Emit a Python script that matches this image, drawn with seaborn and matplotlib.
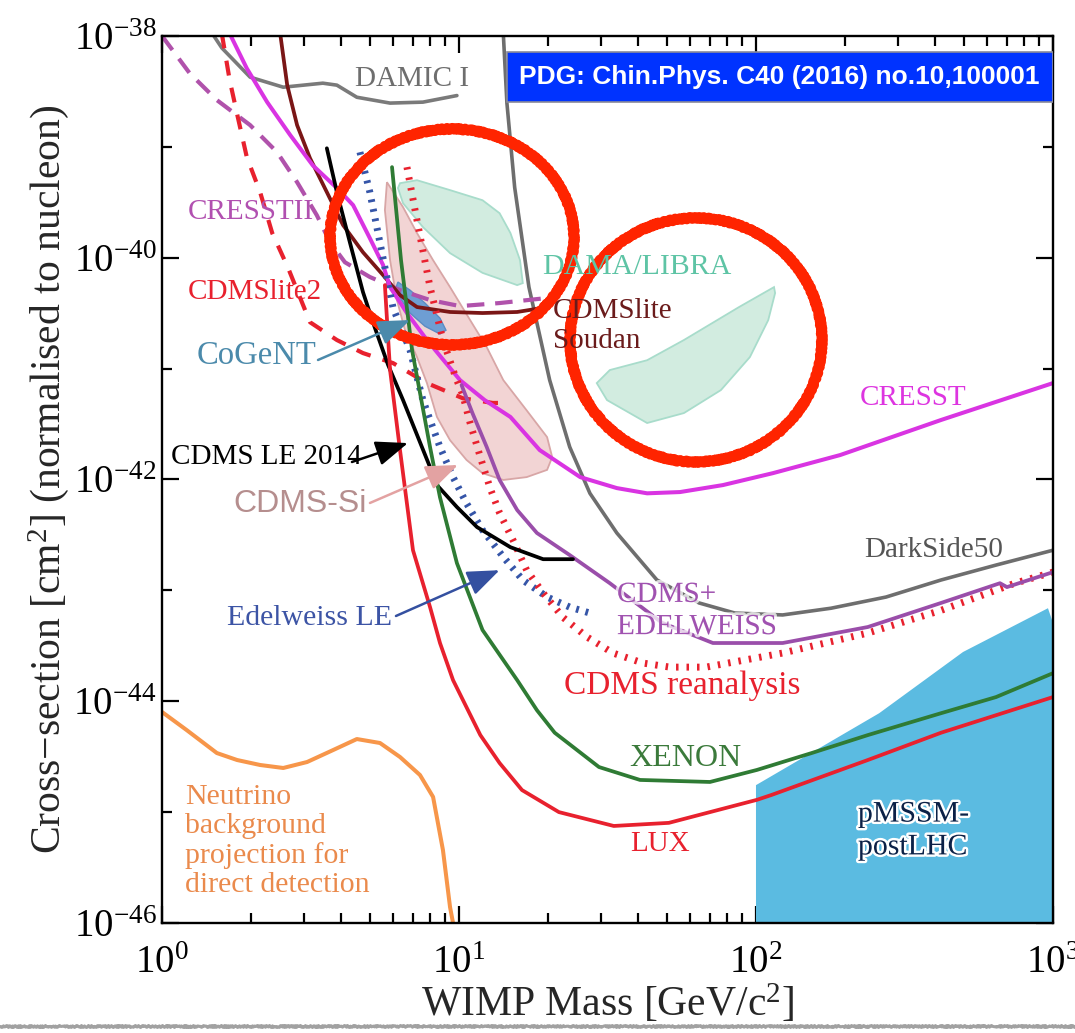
import numpy as np
import pandas as pd
import matplotlib
matplotlib.use("Agg")
import matplotlib.pyplot as plt
import matplotlib.patheffects as pe
from matplotlib.lines import Line2D
from matplotlib.patches import Ellipse, Rectangle
from matplotlib.ticker import FixedLocator, LogLocator, NullFormatter, LogFormatterSciNotation
import seaborn as sns

# ---------------------------------------------------------------------------
# Spin-independent WIMP-nucleon limits: mass [GeV/c^2], cross-section [cm^2]
# ---------------------------------------------------------------------------
damic_mass = [1.46, 1.59, 1.98, 2.56, 3.48, 3.88, 4.53, 5.86, 7.56, 9.84]
damic_xsec = [1.1e-38, 7.8e-39, 4.25e-39, 3.45e-39, 3.75e-39, 3.6e-39, 2.8e-39, 2.48e-39, 2.53e-39, 2.9e-39]

darkside_mass = [14.1, 14.5, 15.4, 17.2, 20.2, 23.6, 27.6, 34.0, 46.4, 64.3, 84.9, 123, 179, 274, 420, 643, 1000]
darkside_xsec = [1.05e-38, 2.48e-39, 4.3e-40, 5.43e-41, 7.87e-42, 1.96e-42, 7.5e-43, 3.29e-43, 1.24e-43,
                 7.7e-44, 6.24e-44, 6.0e-44, 6.9e-44, 8.7e-44, 1.24e-43, 1.69e-43, 2.3e-43]

cresst2_mass = [1.0, 1.24, 1.53, 1.98, 2.44, 2.85, 3.32, 3.68, 4.13, 5.01, 6.33, 7.99, 10.08, 13.7, 19.8]
cresst2_xsec = [1.0e-38, 4.6e-39, 2.64e-39, 1.57e-39, 8.95e-40, 4.8e-40, 2.42e-40, 1.38e-40, 9.1e-41,
                6.7e-41, 5.1e-41, 4.15e-41, 3.66e-41, 3.9e-41, 4.33e-41]

cresst_mass = [1.69, 1.93, 2.26, 2.70, 3.22, 3.88, 4.40, 5.01, 5.55, 5.86, 6.68, 7.80, 10.08, 12.2, 14.9,
               18.7, 25.6, 34.0, 43.0, 55.5, 77.4, 114, 192, 420, 1000]
cresst_xsec = [1.05e-38, 5.1e-39, 2.53e-39, 1.28e-39, 6.8e-40, 4.25e-40, 2.98e-40, 1.50e-40, 8.6e-41, 5.43e-41,
               3.17e-41, 1.81e-41, 7.87e-42, 5.2e-42, 3.66e-42, 1.84e-42, 1.05e-42, 8.36e-43, 7.5e-43, 7.7e-43,
               8.9e-43, 1.14e-42, 1.66e-42, 3.44e-42, 7.4e-42]

soudan_mass = [2.50, 2.64, 2.85, 3.15, 3.59, 4.07, 4.75, 5.55, 6.33, 7.22, 9.33, 12.0, 15.7, 19.9]
soudan_xsec = [1.05e-38, 3.6e-39, 1.57e-39, 7.9e-40, 3.9e-40, 1.97e-40, 1.12e-40, 6.97e-41, 4.6e-41, 3.59e-41,
               3.24e-41, 3.17e-41, 3.24e-41, 3.59e-41]

cdmslite2_mass = [1.59, 1.69, 1.80, 1.93, 2.14, 2.35, 2.66, 3.15, 3.88, 4.75, 6.00, 7.80, 10.3, 13.0, 14.9]
cdmslite2_xsec = [1.05e-38, 3.99e-39, 1.85e-39, 8.07e-40, 3.9e-40, 1.67e-40, 8.05e-41, 2.62e-41, 1.81e-41,
                  1.38e-41, 1.12e-41, 7.4e-42, 5.4e-42, 4.9e-42, 4.9e-42]

cdmsle_mass = [3.59, 3.88, 4.29, 4.75, 5.13, 5.77, 6.48, 7.99, 8.43, 9.84, 11.5, 14.9, 19.2, 24.2]
cdmsle_xsec = [9.7e-40, 3.9e-40, 1.38e-40, 4.9e-41, 2.62e-41, 1.08e-41, 5.2e-42, 1.29e-42, 8.9e-43, 5.64e-43,
               3.72e-43, 2.45e-43, 1.91e-43, 1.91e-43]

cdms_edw_mass = [10.2, 11.1, 12.4, 13.7, 15.7, 18.3, 23.6, 32.2, 48.3, 71.6, 123, 238, 420, 663, 700, 1000]
cdms_edw_xsec = [7.1e-42, 3.97e-42, 1.96e-42, 9.9e-43, 5.3e-43, 3.29e-43, 2.08e-43, 1.16e-43, 5.1e-44,
                 3.35e-44, 3.35e-44, 4.67e-44, 7.7e-44, 1.16e-43, 1.07e-43, 1.46e-43]

cdms_re_mass = [6.68, 7.22, 7.99, 8.83, 9.69, 10.3, 10.9, 11.8, 12.7, 13.7, 15.2, 16.9, 19.2, 22.4, 27.0,
                33.0, 41.6, 51.3, 67.9, 123, 238, 420, 745, 1000]
cdms_re_xsec = [6.56e-40, 2.18e-40, 5.43e-41, 1.81e-41, 8.7e-42, 5.77e-42, 3.23e-42, 1.59e-42, 8.5e-43,
                4.98e-43, 2.84e-43, 1.52e-43, 9.46e-44, 5.7e-44, 3.79e-44, 2.72e-44, 2.21e-44, 2.03e-44,
                2.03e-44, 2.72e-44, 4.12e-44, 6.6e-44, 1.16e-43, 1.46e-43]

edelweiss_mass = [4.64, 5.01, 5.55, 6.00, 6.84, 7.56, 7.99, 8.63, 9.55, 10.6, 12.0, 14.1, 16.4, 19.8, 23.6, 27.6]
edelweiss_xsec = [8.95e-40, 3.9e-40, 9.9e-41, 3.52e-41, 1.47e-41, 5.2e-42, 3.44e-42, 1.96e-42, 1.05e-42,
                  6.1e-43, 3.5e-43, 2.0e-43, 1.24e-43, 8.7e-44, 7.06e-44, 6.24e-44]

xenon_mass = [5.95, 6.38, 6.95, 7.99, 8.63, 9.84, 12.0, 15.7, 18.3, 21.0, 29.6, 40.7, 70.0, 100.7, 154,
              238, 420, 643, 1000]
xenon_xsec = [6.56e-40, 9.5e-41, 1.47e-41, 1.96e-42, 6.9e-43, 1.76e-43, 4.39e-44, 1.55e-44, 8.3e-45, 5.2e-45,
              2.55e-45, 1.95e-45, 1.87e-45, 2.4e-45, 3.41e-45, 4.95e-45, 7.8e-45, 1.09e-44, 1.79e-44]

lux_mass = [5.63, 5.86, 6.33, 7.00, 7.99, 8.63, 9.55, 11.8, 13.7, 16.3, 21.7, 33.2, 50.9, 100.7, 113,
            238, 420, 1000]
lux_xsec = [5.66e-41, 9.7e-42, 1.84e-42, 2.3e-43, 7.06e-44, 3.35e-44, 1.55e-44, 4.95e-45, 2.77e-45, 1.58e-45,
            1.0e-45, 7.5e-46, 8.0e-46, 1.29e-45, 1.43e-45, 2.95e-45, 5.2e-45, 1.09e-44]

neutrino_mass = [1.0, 1.21, 1.53, 1.79, 2.14, 2.56, 3.08, 3.77, 4.53, 5.42, 6.33, 7.39, 8.18, 8.83, 9.33, 9.55, 9.62]
neutrino_xsec = [8.0e-45, 5.5e-45, 3.41e-45, 2.95e-45, 2.66e-45, 2.5e-45, 2.83e-45, 3.63e-45, 4.56e-45,
                 4.2e-45, 3.14e-45, 2.16e-45, 1.37e-45, 4.55e-46, 1.39e-46, 1.0e-46, 8.0e-47]

# ---- preferred (signal) regions, closed contours ----
cogent_mass = [6.23, 6.84, 7.68, 8.63, 9.04, 8.63, 7.68, 6.84, 6.33, 6.14]
cogent_xsec = [6.03e-41, 5.1e-41, 3.9e-41, 2.85e-41, 2.22e-41, 2.05e-41, 2.41e-41, 3.17e-41, 4.33e-41, 5.43e-41]

cdmssi_mass = [5.72, 6.48, 7.22, 8.18, 9.33, 10.9, 12.4, 14.1, 16.9, 19.8, 20.6, 19.8, 16.9, 14.1, 12.0,
               10.6, 9.33, 8.43, 7.80, 7.22, 6.58, 6.18, 5.86, 5.63]
cdmssi_xsec = [4.8e-40, 2.86e-40, 1.67e-40, 9.5e-41, 5.43e-41, 2.74e-41, 1.56e-41, 7.87e-42, 4.2e-42,
               2.41e-42, 1.59e-42, 1.22e-42, 1.05e-42, 9.9e-43, 1.14e-42, 1.50e-42, 2.26e-42, 3.66e-42,
               7.4e-42, 1.27e-41, 2.22e-41, 4.15e-41, 9.5e-41, 2.69e-40]

dama_low_mass = [6.33, 7.22, 9.33, 12.0, 13.7, 14.9, 16.05, 16.4, 15.7, 12.0, 9.33, 7.56, 6.48, 6.23]
dama_low_xsec = [4.7e-40, 5.0e-40, 4.07e-40, 3.3e-40, 2.52e-40, 1.67e-40, 9.5e-41, 5.9e-41, 5.66e-41,
                 7.3e-41, 1.10e-40, 1.89e-40, 3.1e-40, 4.25e-40]

dama_high_mass = [115, 87.7, 57.2, 43.0, 32.2, 29.1, 31.5, 43.0, 57.2, 76.2, 95.4, 110, 116]
dama_high_xsec = [5.43e-41, 3.59e-41, 1.81e-41, 1.19e-41, 9.7e-42, 7.4e-42, 5.2e-42, 3.23e-42, 3.97e-42,
                  6.4e-42, 1.27e-41, 2.74e-41, 4.8e-41]

pmssm_mass = [100, 100, 260, 498, 962, 1000, 1000]
pmssm_xsec = [1.0e-46, 1.75e-45, 7.8e-45, 2.78e-44, 6.9e-44, 5.1e-44, 1.0e-46]

# ---- styling ----
sns.set_style("ticks")
plt.rcParams.update({
    "font.family": ["Liberation Serif", "DejaVu Serif"],
    "mathtext.fontset": "custom",
    "mathtext.rm": "Liberation Serif",
    "mathtext.it": "Liberation Serif:italic",
    "mathtext.bf": "Liberation Serif:bold",
    "axes.linewidth": 1.7,
    "axes.edgecolor": "black",
    "xtick.direction": "in",
    "ytick.direction": "in",
    "xtick.top": True,
    "ytick.right": True,
    "xtick.color": "black",
    "ytick.color": "black",
})

RED = "#E8212E"

fig = plt.figure(figsize=(10.75, 10.33), dpi=100)
ax = fig.add_axes([0.1507, 0.1065, 0.8288, 0.8587])
ax.set_xscale("log")
ax.set_yscale("log")

# filled regions
ax.fill(pmssm_mass, pmssm_xsec, color="#5BBBE1", lw=0, zorder=1)
ax.fill(dama_low_mass, dama_low_xsec, facecolor="#D2ECE0", edgecolor="#A8DCCB", lw=1.3, zorder=1)
ax.fill(dama_high_mass, dama_high_xsec, facecolor="#D2ECE0", edgecolor="#A8DCCB", lw=1.3, zorder=1)
ax.fill(cdmssi_mass, cdmssi_xsec, facecolor="#F2D4D4", edgecolor="#D8A6A6", lw=1.3, zorder=1.2)
ax.fill(cogent_mass, cogent_xsec, facecolor="#6E9ED3", edgecolor="#5B8CC4", lw=1.0, zorder=1.3)

dotted_red = (0, (0.36, 1.15))
dotted_blue = (0, (0.4, 1.0))

curves = [
    (damic_mass, damic_xsec, dict(color="#7A7A7A", lw=2.6)),
    (darkside_mass, darkside_xsec, dict(color="#6E6E6E", lw=2.6)),
    (cresst2_mass, cresst2_xsec, dict(color="#B052AB", lw=3.0, linestyle=(0, (4.2, 2.6)))),
    (cdmslite2_mass, cdmslite2_xsec, dict(color=RED, lw=3.0, linestyle=(0, (3.6, 3.0)))),
    (soudan_mass, soudan_xsec, dict(color="#7A1616", lw=2.7)),
    (cresst_mass, cresst_xsec, dict(color="#D934E2", lw=2.9)),
    (edelweiss_mass, edelweiss_xsec, dict(color="#3555A8", lw=5.0, linestyle=dotted_blue)),
    (cdms_re_mass, cdms_re_xsec, dict(color=RED, lw=5.0, linestyle=dotted_red)),
    (cdms_edw_mass, cdms_edw_xsec, dict(color="#9A4EAA", lw=2.7)),
    (cdmsle_mass, cdmsle_xsec, dict(color="black", lw=2.7)),
    (xenon_mass, xenon_xsec, dict(color="#2F7B34", lw=2.7)),
    (lux_mass, lux_xsec, dict(color=RED, lw=2.7)),
    (neutrino_mass, neutrino_xsec, dict(color="#F7964A", lw=2.9)),
]
for mass, xsec, style in curves:
    sns.lineplot(x=mass, y=xsec, sort=False, estimator=None, ax=ax, zorder=2, **style)

ax.set_xlim(1, 1000)
ax.set_ylim(1e-46, 1e-38)

# axes, ticks
ax.xaxis.set_major_locator(LogLocator(base=10))
ax.xaxis.set_minor_locator(LogLocator(base=10, subs=np.arange(2, 10)))
ax.xaxis.set_minor_formatter(NullFormatter())
ax.yaxis.set_major_locator(FixedLocator([1e-46, 1e-44, 1e-42, 1e-40, 1e-38]))
ax.yaxis.set_major_formatter(LogFormatterSciNotation(base=10))
ax.yaxis.set_minor_locator(FixedLocator([1e-45, 1e-43, 1e-41, 1e-39]))
ax.yaxis.set_minor_formatter(NullFormatter())
ax.tick_params(which="major", length=12.5, width=1.6, labelsize=28)
ax.tick_params(which="minor", length=7, width=1.6)
ax.tick_params(axis="x", which="major", pad=16)
ax.tick_params(axis="y", which="major", pad=4)
for s in ax.spines.values():
    s.set_visible(True)
    s.set_linewidth(1.7)

ax.set_xlabel("WIMP Mass [GeV/c$^2$]", fontsize=30, va="baseline")
ax.xaxis.set_label_coords(0.5, -0.1048)
ax.set_ylabel("Cross\u2212section [cm$^2$] (normalised to nucleon)", fontsize=30, va="baseline")
ax.yaxis.set_label_coords(-0.1145, 0.5)

# hand-drawn highlight rings
for cx, cy, w, h in [(0.3255, 0.7734, 0.2738, 0.2435), (0.5993, 0.6573, 0.2828, 0.2751)]:
    for lw, sk in [(7.0, (1.2, 5, 2)), (4.0, (2.6, 2, 3)), (2.2, (3.4, 1.5, 3))]:
        ring = Ellipse((cx, cy), w, h, transform=ax.transAxes, fill=False,
                       edgecolor="#FF2400", lw=lw, zorder=6)
        ring.set_joinstyle("round")
        ring.set_capstyle("round")
        ring.set_sketch_params(*sk)
        ax.add_patch(ring)

# reference banner
ax.add_patch(Rectangle((0.3872, 0.9256), 0.6128, 0.0564, transform=ax.transAxes,
                       facecolor="#0033FF", edgecolor="#8A8A9A", lw=1.2, zorder=7))
ax.text(0.6930, 0.9538, "PDG: Chin.Phys. C40 (2016) no.10,100001", transform=ax.transAxes,
        ha="center", va="center", color="white", fontsize=19, fontweight="bold",
        family="Liberation Sans", zorder=8)

# curve labels
def label(fx, fy, s, color, size=21, **kw):
    return ax.text(fx, fy, s, transform=ax.transAxes, ha="left", va="center",
                   color=color, fontsize=size, zorder=8, **kw)

label(0.2166, 0.9515, "DAMIC I", "#6E6E6E")
label(0.0292, 0.8016, "CRESSTII", "#B150B0")
label(0.0292, 0.7114, "CDMSlite2", RED)
label(0.0393, 0.6392, "CoGeNT", "#4B8AAB", size=23.5)
label(0.0101, 0.5254, "CDMS LE 2014", "black", size=21)
label(0.0797, 0.4724, "CDMS-Si", "#B58E8E", size=23, family="Liberation Sans")
label(0.0730, 0.3439, "Edelweiss LE", "#3C54A5", size=21.5)
label(0.4265, 0.7396, "DAMA/LIBRA", "#5EC4A5", size=21.5)
label(0.4388, 0.6731, "CDMSlite\nSoudan", "#6B1B1B", linespacing=1.24)
label(0.7834, 0.5919, "CRESST", "#DD35E0")
label(0.7879, 0.4205, "DarkSide50", "#555555")
label(0.5107, 0.3517, "CDMS+\nEDELWEISS", "#A052B0", linespacing=1.31,
      path_effects=[pe.withStroke(linewidth=4, foreground=(1, 1, 1, 0.75))])
label(0.4512, 0.2672, "CDMS reanalysis", RED, size=24)
label(0.5241, 0.1849, "XENON", "#3B7A3B", size=23)
label(0.5253, 0.0891, "LUX", RED)
label(0.0258, 0.0924, "Neutrino\nbackground\nprojection for\ndirect detection", "#EA8A4C",
      size=21.5, linespacing=1.16)
label(0.7811, 0.1037, "pMSSM-\npostLHC", "#0B2147", size=21.5, linespacing=1.34,
      path_effects=[pe.withStroke(linewidth=3.5, foreground="white")])

# pointer arrows: tip on the contour (mass, cross-section), tail next to the label
arrows = [
    ((6.84, 2.74e-41), (0.1751, 0.6347), "#4B8AAB"),
    ((6.73, 2.13e-42), (0.2132, 0.5197), "black"),
    ((9.92, 1.35e-42), (0.2334, 0.4735), "#E3A2A2"),
    ((13.7, 1.52e-43), (0.2626, 0.3461), "#3450A0"),
]
for tip, tail, color in arrows:
    ax.annotate("", xy=tip, xycoords="data", xytext=tail, textcoords="axes fraction",
                arrowprops=dict(arrowstyle="-|>,head_length=0.9,head_width=0.35",
                                mutation_scale=22, color=color, lw=1.8,
                                shrinkA=0, shrinkB=0), zorder=8)

# faint rough rule along the lower page edge
edge = Line2D([0, 1], [0.0063, 0.0063], transform=fig.transFigure, color="#7A7A7A",
              lw=2.2, alpha=0.7)
edge.set_sketch_params(1.0, 3, 2)
fig.add_artist(edge)

fig.savefig("out.png", dpi=100)
